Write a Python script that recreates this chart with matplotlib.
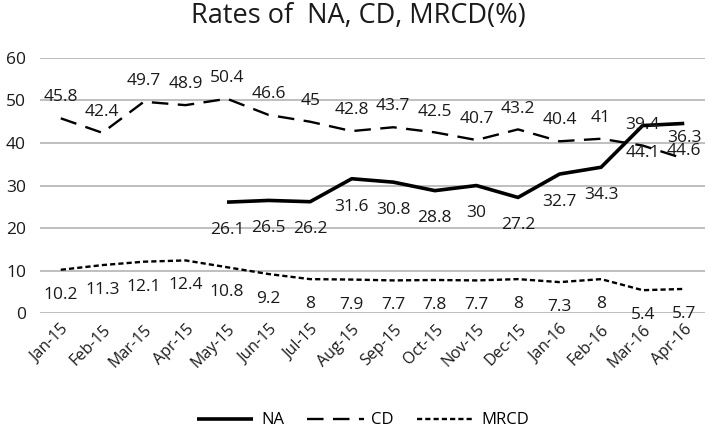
import matplotlib
matplotlib.use("Agg")
import matplotlib.pyplot as plt
import numpy as np

months = ["Jan-15", "Feb-15", "Mar-15", "Apr-15", "May-15", "Jun-15", "Jul-15", "Aug-15",
          "Sep-15", "Oct-15", "Nov-15", "Dec-15", "Jan-16", "Feb-16", "Mar-16", "Apr-16"]
na = [None, None, None, None, 26.1, 26.5, 26.2, 31.6, 30.8, 28.8, 30, 27.2, 32.7, 34.3, 44.1, 44.6]
cd = [45.8, 42.4, 49.7, 48.9, 50.4, 46.6, 45, 42.8, 43.7, 42.5, 40.7, 43.2, 40.4, 41, 39.4, 36.3]
mrcd = [10.2, 11.3, 12.1, 12.4, 10.8, 9.2, 8, 7.9, 7.7, 7.8, 7.7, 8, 7.3, 8, 5.4, 5.7]
yticks = [0, 10, 20, 30, 40, 50, 60]

plt.rcParams['font.family'] = ['Open Sans', 'DejaVu Sans']

fig = plt.figure(figsize=(7.09, 4.29), dpi=100)
ax = fig.add_axes([0.0564, 0.270, 0.938, 0.595])

x = np.arange(len(months))
na_arr = np.array([np.nan if v is None else v for v in na], dtype=float)

ax.plot(x, na_arr, color='black', lw=2.6, label='NA', solid_capstyle='butt')
ax.plot(x, cd, color='black', lw=1.7, dashes=(7, 4), label='CD')
ax.plot(x, mrcd, color='black', lw=1.7, dashes=(2.2, 1.3), label='MRCD')

lab_kw = dict(textcoords='offset points', ha='center', va='center', fontsize=12.5, color='#1a1a1a')
for xi, v in zip(x, cd):
    ax.annotate(f"{v:g}", (xi, v), xytext=(0, 15), **lab_kw)
for xi, v in zip(x, na):
    if v is not None:
        ax.annotate(f"{v:g}", (xi, v), xytext=(0, -20), **lab_kw)
for xi, v in zip(x, mrcd):
    ax.annotate(f"{v:g}", (xi, v), xytext=(0, -18), **lab_kw)

ax.set_xlim(-0.5, len(months) - 0.5)
ax.set_ylim(0, 60)
ax.set_yticks(yticks)
ax.set_yticklabels([str(t) for t in yticks], fontsize=12.5, color='#1a1a1a')
ax.set_xticks(x)
ax.set_xticklabels(months, rotation=45, ha='right', rotation_mode='anchor', fontsize=11.5, color='#1a1a1a')
ax.tick_params(axis='both', length=0)
ax.tick_params(axis='y', pad=10)
ax.tick_params(axis='x', pad=6)
ax.grid(axis='y', color='#bfbfbf', lw=1.4)
ax.set_axisbelow(True)
for s in ax.spines.values():
    s.set_visible(False)

fig.text(0.506, 0.962, "Rates of  NA, CD, MRCD(%)", ha='center', va='center', fontsize=19.5, color='#1a1a1a')

fig.legend(loc='center', bbox_to_anchor=(0.512, 0.02), ncol=3, frameon=False, fontsize=12,
           handlelength=3.4, columnspacing=1.4, handletextpad=0.45, borderpad=0.2)

fig.savefig("out.png", dpi=100)
